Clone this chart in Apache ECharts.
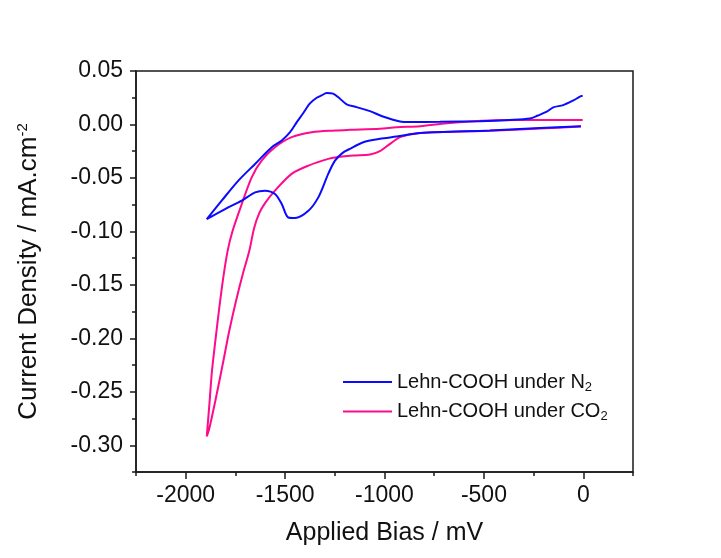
<!DOCTYPE html>
<html>
<head>
<meta charset="utf-8">
<title>Lehn-COOH CV</title>
<script src="https://cdn.jsdelivr.net/npm/echarts@6.0.0/dist/echarts.min.js"></script>
<style>
  html, body { margin: 0; padding: 0; background: #fff; }
  #main { width: 721px; height: 558px; }
</style>
</head>
<body>
<div id="main"></div>
<script>
// N2 scan: upper branch (0 -> -1900) then lower branch back to 0
var n2Bias = [-3, -17, -50, -101, -151, -184, -228, -268, -371, -520, -721, -872, -922, -1008, -1073, -1140, -1190, -1224, -1259, -1291, -1316, -1341, -1375, -1410, -1442, -1475, -1517, -1567, -1651, -1735, -1819, -1894,
  -1802, -1718, -1651, -1601, -1551, -1517, -1484, -1450, -1383, -1333, -1283, -1249, -1209, -1174, -1107, -1023, -939, -821, -470, -218, -12];
var n2Current = [0.027, 0.026, 0.0225, 0.0181, 0.016, 0.0119, 0.0084, 0.0056, 0.0042, 0.0031, 0.0025, 0.0023, 0.0028, 0.0075, 0.0125, 0.0162, 0.0188, 0.0241, 0.0288, 0.0294, 0.0272, 0.025, 0.0197, 0.0103, 0.002, -0.0072, -0.015, -0.0213, -0.0369, -0.0525, -0.0713, -0.0885,
  -0.0791, -0.0713, -0.0635, -0.0619, -0.065, -0.0744, -0.087, -0.0875, -0.0807, -0.0682, -0.0462, -0.0338, -0.0263, -0.0228, -0.0166, -0.0134, -0.0113, -0.008, -0.0056, -0.0033, -0.0016];

// CO2 scan
var co2Bias = [-3, -268, -470, -671, -821, -939, -1023, -1174, -1249, -1366, -1467, -1551, -1618, -1668, -1718, -1764, -1789, -1811, -1831, -1851, -1868, -1881, -1894,
  -1881, -1848, -1814, -1781, -1747, -1713, -1680, -1656, -1630, -1601, -1551, -1467, -1383, -1283, -1240, -1157, -1073, -1023, -972, -922, -857, -771, -470, -218, -12];
var co2Current = [0.0042, 0.0041, 0.0038, 0.0014, -0.0016, -0.0025, -0.004, -0.005, -0.0056, -0.0072, -0.0119, -0.0213, -0.0338, -0.0494, -0.0744, -0.0994, -0.1182, -0.1432, -0.1714, -0.2026, -0.2308, -0.262, -0.2917,
  -0.284, -0.2558, -0.2245, -0.1932, -0.1651, -0.1401, -0.1182, -0.097, -0.083, -0.0735, -0.0619, -0.0462, -0.0385, -0.0322, -0.0307, -0.0291, -0.0281, -0.025, -0.0181, -0.0119, -0.0089, -0.0075, -0.0059, -0.0038, -0.002];

var xMajorTicks = [-2000, -1500, -1000, -500, 0];
var yMajorTicks = [-0.3, -0.25, -0.2, -0.15, -0.1, -0.05, 0, 0.05];

var seriesNames = ['Lehn-COOH under N2', 'Lehn-COOH under CO2'];

function pairs(xs, ys) {
  var out = [];
  for (var i = 0; i < xs.length; i++) {
    out.push([xs[i], ys[i]]);
  }
  return out;
}

var font = 'Arial, "Liberation Sans", sans-serif';
var axisColor = '#1a1a1a';

var chart = echarts.init(document.getElementById('main'));
var option = {
  backgroundColor: '#ffffff',
  animation: false,
  grid: {
    left: 136, right: 88, top: 71, bottom: 86,
    show: true, borderColor: axisColor, borderWidth: 1.5
  },
  legend: {
    data: seriesNames,
    orient: 'vertical',
    left: 343,
    top: 372,
    padding: 0,
    icon: 'rect',
    itemWidth: 49,
    itemHeight: 2,
    itemGap: 8,
    formatter: function(name) {
      return name === seriesNames[0] ? 'Lehn-COOH under N{sub|2}' : 'Lehn-COOH under CO{sub|2}';
    },
    textStyle: {
      fontFamily: font, fontSize: 20, color: '#111',
      rich: {
        sub: { fontFamily: font, fontSize: 13, color: '#111', verticalAlign: 'bottom', padding: [10, 0, 0, 0] }
      }
    }
  },
  xAxis: [{
    type: 'value',
    min: -2250, max: 250, interval: 250,
    name: 'Applied Bias / mV',
    nameLocation: 'middle',
    nameGap: 49,
    nameTextStyle: { fontFamily: font, fontSize: 25, color: '#111' },
    axisLine: { onZero: false, lineStyle: { color: axisColor, width: 1.5 } },
    axisTick: { show: true, inside: false, length: 4, lineStyle: { color: axisColor, width: 1.5 } },
    axisLabel: {
      fontFamily: font, fontSize: 23, color: '#111', margin: 12,
      formatter: function(v) {
        return Math.round(v) % 500 === 0 && v > -2250 && v < 250 ? String(Math.round(v)) : '';
      }
    },
    splitLine: { show: false }
  }, {
    type: 'value',
    position: 'bottom',
    min: -2250, max: 250,
    axisLine: { show: false, onZero: false },
    axisTick: { show: true, length: 7, customValues: xMajorTicks, lineStyle: { color: axisColor, width: 1.5 } },
    axisLabel: { show: false },
    splitLine: { show: false }
  }],
  yAxis: [{
    type: 'value',
    min: -0.325, max: 0.05, interval: 0.025,
    name: 'Current Density / mA.cm{sup|-2}',
    nameLocation: 'middle',
    nameRotate: 90,
    nameGap: 94,
    nameTextStyle: {
      fontFamily: font, fontSize: 26, color: '#111',
      rich: {
        sup: { fontFamily: font, fontSize: 15, color: '#111', verticalAlign: 'top', padding: [0, 0, 12, 0] }
      }
    },
    axisLine: { onZero: false, lineStyle: { color: axisColor, width: 1.5 } },
    axisTick: { show: true, inside: false, length: 4, lineStyle: { color: axisColor, width: 1.5 } },
    axisLabel: {
      fontFamily: font, fontSize: 23, color: '#111', margin: 13,
      formatter: function(v) {
        var m = Math.round(v * 1000);
        return m % 50 === 0 ? (m / 1000).toFixed(2) : '';
      }
    },
    splitLine: { show: false }
  }, {
    type: 'value',
    position: 'left',
    min: -0.325, max: 0.05,
    axisLine: { show: false, onZero: false },
    axisTick: { show: true, length: 6, customValues: yMajorTicks, lineStyle: { color: axisColor, width: 1.5 } },
    axisLabel: { show: false },
    splitLine: { show: false }
  }],
  series: [{
    name: seriesNames[0],
    type: 'line',
    z: 3,
    showSymbol: false,
    symbol: 'none',
    smooth: 0.3,
    color: '#0a0aff',
    lineStyle: { width: 2, color: '#0a0aff' },
    data: pairs(n2Bias, n2Current)
  }, {
    name: seriesNames[1],
    type: 'line',
    z: 2,
    showSymbol: false,
    symbol: 'none',
    smooth: 0.3,
    color: '#ff0a8c',
    lineStyle: { width: 2, color: '#ff0a8c' },
    data: pairs(co2Bias, co2Current)
  }]
};
chart.setOption(option);
</script>
</body>
</html>
